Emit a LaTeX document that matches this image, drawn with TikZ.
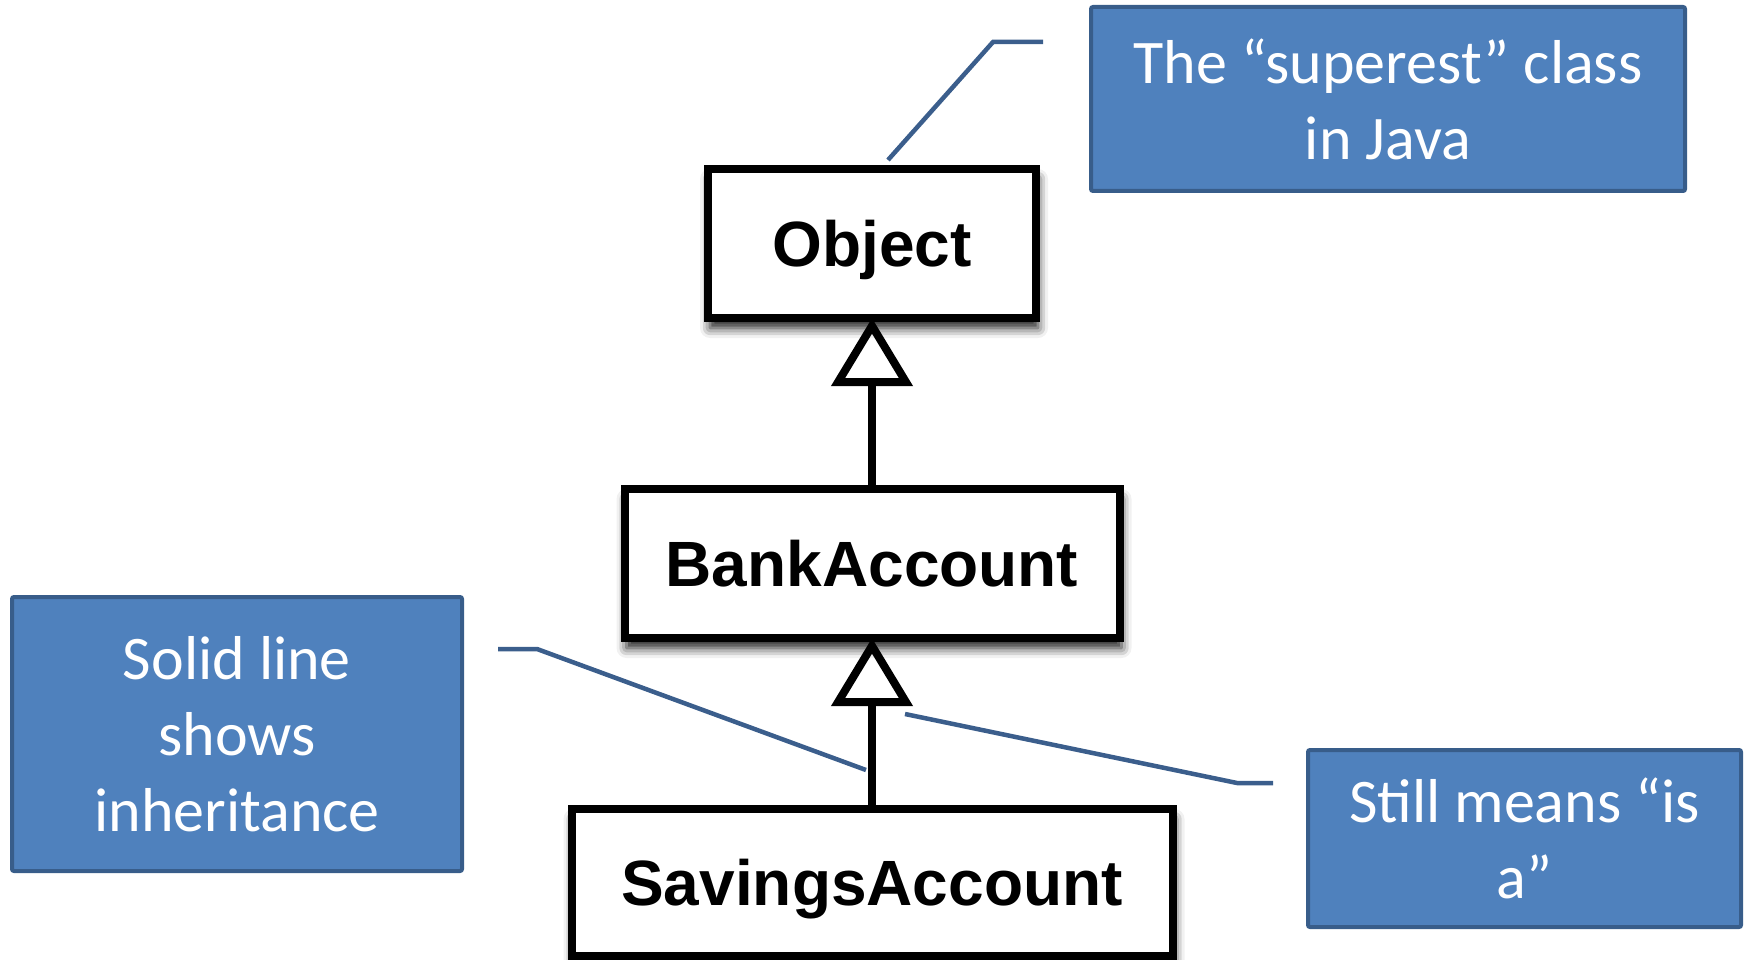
\documentclass[tikz,border=0pt]{standalone}
\usepackage{fontspec}
\newfontfamily\calibri{Carlito}
\newfontfamily\helv{Liberation Sans}
\usetikzlibrary{arrows.meta,shadows.blur}
\definecolor{cfill}{HTML}{4F81BD}
\definecolor{cborder}{HTML}{385D8A}
\definecolor{cline}{HTML}{3B5E8C}
\tikzset{
  classbox/.style={draw=black, fill=white, line width=8pt, inner sep=0pt, outer sep=0pt,
    text height=46pt, text depth=0pt,
    font=\helv\bfseries\fontsize{64}{77}\selectfont,
    blur shadow={shadow xshift=2pt, shadow yshift=-10pt, shadow blur radius=10pt, shadow opacity=90}},
  callout/.style={draw=cborder, fill=cfill, line width=4pt, inner sep=0pt, outer sep=0pt,
    rounded corners=2pt, text=white, align=center,
    font=\calibri\fontsize{62}{76}\selectfont},
  inherit/.style={draw=black, line width=8pt,
    -{Triangle[open, length=68pt, width=80pt, line join=miter]}},
  pointer/.style={draw=cline, line width=4.5pt}
}
\begin{document}
\begin{tikzpicture}[x=1pt, y=-1pt]
\useasboundingbox (0,0) rectangle (1748,960);
% class boxes
\node[classbox, minimum width=328pt, minimum height=149pt] (object) at (872,243.5) {Object};
\node[classbox, minimum width=495pt, minimum height=149pt] (bank) at (872,563.5) {BankAccount};
\node[classbox, minimum width=601pt, minimum height=147pt] (savings) at (872,882.5) {SavingsAccount};
% inheritance connectors
\draw[inherit] (bank.north) -- (object.south);
\draw[inherit] (savings.north) -- (bank.south);
% callouts
\node[callout, minimum width=594pt, minimum height=184pt] (c1) at (1388,99) {The “superest” class\\in Java};
\node[callout, minimum width=450pt, minimum height=274pt] (c2) at (237,734) {Solid line\\shows\\inheritance};
\node[callout, minimum width=433pt, minimum height=177pt] (c3) at (1524.5,838.5) {Still means “is\\a”};
% pointer lines
\coordinate (p1a) at (888,160);
\coordinate (p1b) at (993,42);
\coordinate (p1c) at (1043,42);
\draw[pointer] (p1a) -- (p1b) -- (p1c);
\coordinate (p2a) at (498,649);
\coordinate (p2b) at (537,649);
\coordinate (p2c) at (866,770);
\draw[pointer] (p2a) -- (p2b) -- (p2c);
\coordinate (p3a) at (905,714);
\coordinate (p3b) at (1237,783);
\coordinate (p3c) at (1273,783);
\draw[pointer] (p3a) -- (p3b) -- (p3c);
\end{tikzpicture}
\end{document}
